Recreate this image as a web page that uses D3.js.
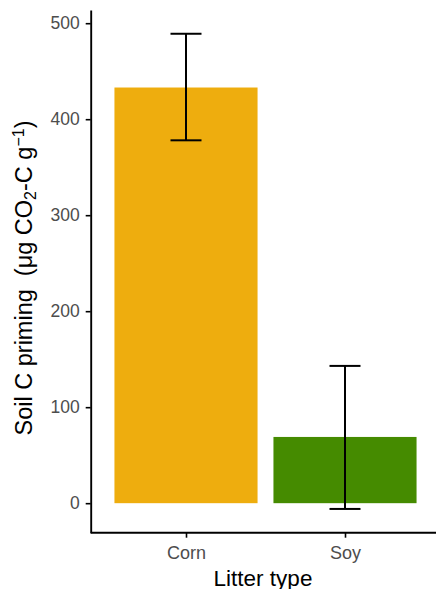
<!DOCTYPE html>
<html>
<head>
<meta charset="utf-8">
<script src="https://cdn.jsdelivr.net/npm/d3@7"></script>
<style>
  body { margin: 0; background: white; }
  text { font-family: "Liberation Sans", Arial, sans-serif; }
</style>
</head>
<body>
<script>
// data
const categories = ['Corn', 'Soy']
const means = [433, 69]
const errLow = [378, -6]
const errHigh = [489, 143]
const colors = ['#EEAD0E', '#458B00']
const yTicks = [0, 100, 200, 300, 400, 500]

const width = 436, height = 589
const panel = {left: 90.7, top: 10, bottom: 532.7}
const fontFam = '"Liberation Sans", Arial, sans-serif'

const svg = d3.select('body').append('svg')
    .attr('width', width)
    .attr('height', height)

// y scale (ggplot style 5% expansion of the data range)
const lo = d3.min([0, ...errLow]), hi = d3.max([...means, ...errHigh])
const pad = (hi - lo) * 0.05
const yScale = d3.scaleLinear()
    .domain([lo - pad, hi + pad])
    .range([panel.bottom, panel.top])

// x scale, categories 159px apart
const xScale = d3.scalePoint()
    .domain(categories)
    .range([186, 345])
const barW = xScale.step() * 0.9

// bars
svg.selectAll('.bar').data(categories)
    .enter()
    .append('rect')
        .attr('x', d => xScale(d) - barW / 2)
        .attr('width', barW)
        .attr('y', (d, i) => yScale(means[i]))
        .attr('height', (d, i) => yScale(0) - yScale(means[i]))
        .attr('fill', (d, i) => colors[i])

// error bars
const capW = 31
const eb = svg.selectAll('.err').data(categories)
    .enter()
    .append('g')
        .attr('stroke', 'black')
        .attr('stroke-width', 2)
eb.append('line')
    .attr('x1', d => xScale(d)).attr('x2', d => xScale(d))
    .attr('y1', (d, i) => yScale(errLow[i]))
    .attr('y2', (d, i) => yScale(errHigh[i]))
eb.append('line')
    .attr('x1', d => xScale(d) - capW / 2).attr('x2', d => xScale(d) + capW / 2)
    .attr('y1', (d, i) => yScale(errHigh[i])).attr('y2', (d, i) => yScale(errHigh[i]))
eb.append('line')
    .attr('x1', d => xScale(d) - capW / 2).attr('x2', d => xScale(d) + capW / 2)
    .attr('y1', (d, i) => yScale(errLow[i])).attr('y2', (d, i) => yScale(errLow[i]))

// y axis
const yAxis = svg.append('g')
    .attr('transform', 'translate(' + panel.left + ',0)')
    .call(d3.axisLeft(yScale).tickValues(yTicks).tickSize(5).tickPadding(6).tickSizeOuter(0))
yAxis.select('.domain').attr('stroke-width', 1.9)
yAxis.selectAll('.tick line').attr('stroke-width', 1.6)
yAxis.selectAll('.tick text')
    .attr('fill', '#4d4d4d')
    .style('font-size', '17.5px')
    .style('font-family', fontFam)

// x axis
const xAxis = svg.append('g')
    .attr('transform', 'translate(0,' + panel.bottom + ')')
    .call(d3.axisBottom(xScale).tickSize(5).tickPadding(8).tickSizeOuter(0))
xAxis.select('.domain')
    .attr('d', 'M' + panel.left + ',0H' + width)
    .attr('stroke-width', 1.9)
xAxis.selectAll('.tick line').attr('stroke-width', 1.6)
xAxis.selectAll('.tick text')
    .attr('fill', '#4d4d4d')
    .attr('dy', '0.72em')
    .style('font-size', '18px')
    .style('font-family', fontFam)

// axis titles
svg.append('text')
    .attr('text-anchor', 'middle')
    .attr('x', 263)
    .attr('y', 585.5)
    .attr('fill', 'black')
    .style('font-size', '22.5px')
    .text('Litter type')

const yLab = svg.append('text')
    .attr('text-anchor', 'middle')
    .attr('transform', 'translate(31.5,278)rotate(-90)')
    .attr('fill', 'black')
    .style('font-size', '23.5px')
yLab.append('tspan').text('Soil C priming\u00a0\u00a0(\u03bcg CO')
yLab.append('tspan').attr('baseline-shift', '-22%').style('font-size', '16px').text('2')
yLab.append('tspan').text('-C g')
yLab.append('tspan').attr('baseline-shift', '48%').style('font-size', '16px').text('\u22121')
yLab.append('tspan').text(')')
</script>
</body>
</html>
